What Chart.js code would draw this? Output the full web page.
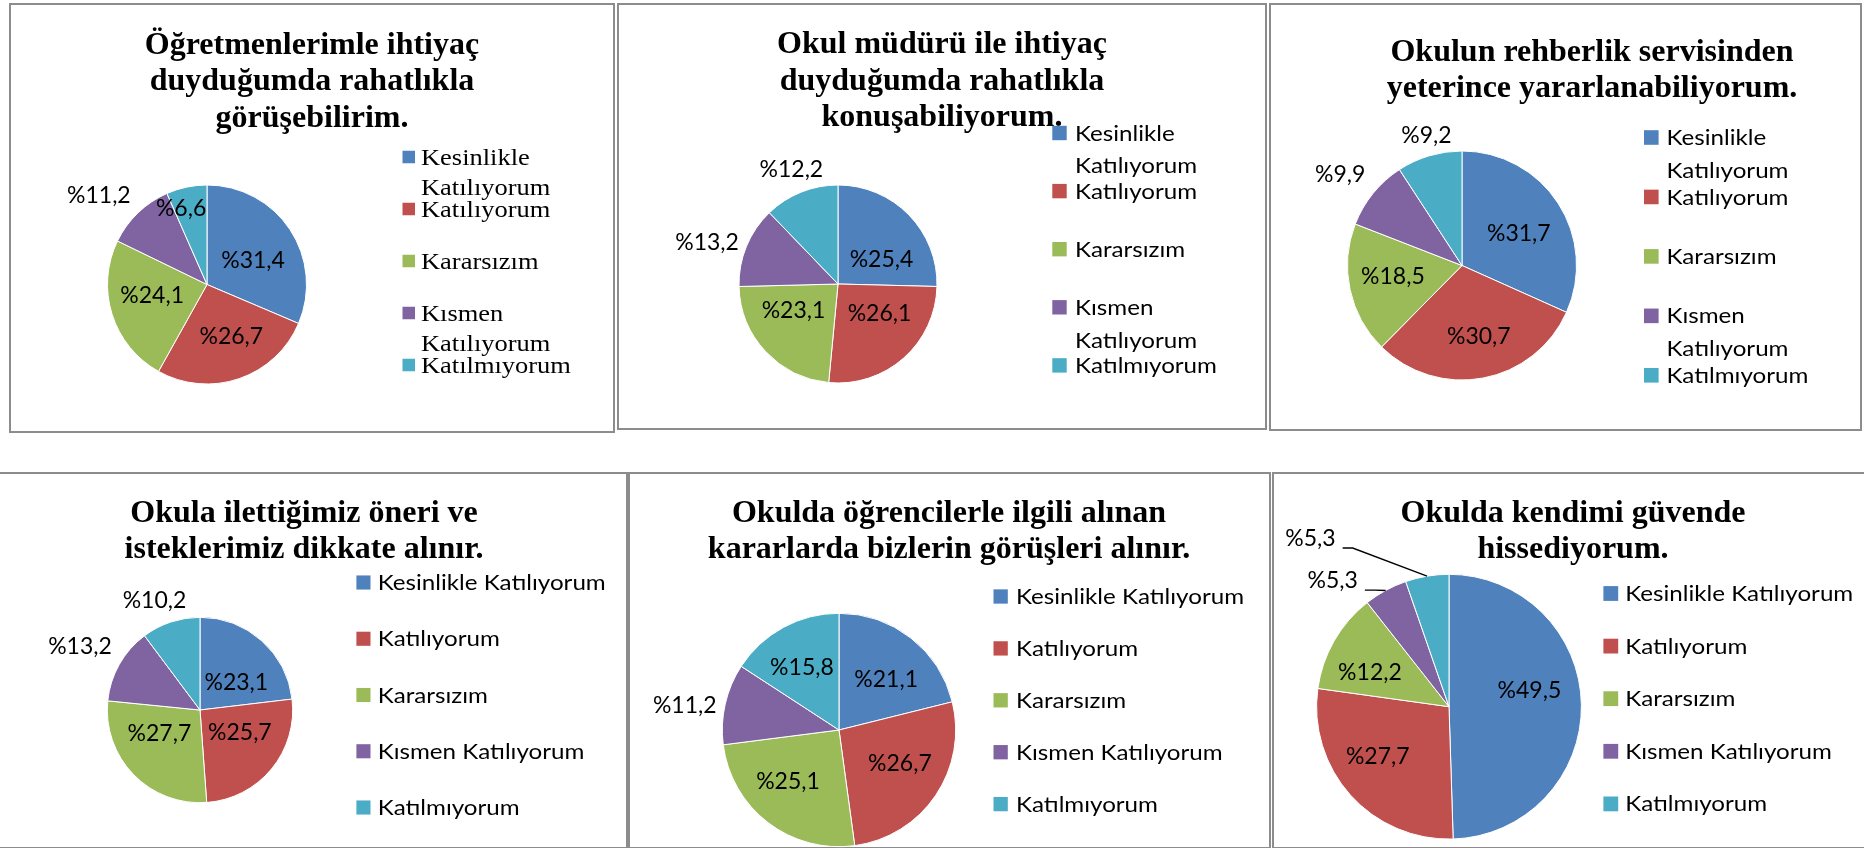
<!DOCTYPE html>
<html>
<head>
<meta charset="utf-8">
<script src="https://cdn.jsdelivr.net/npm/chart.js@4.4.0/dist/chart.umd.min.js"></script>
<style>
html,body{margin:0;padding:0;background:#fff;}
body{width:1864px;height:848px;position:relative;overflow:hidden;}
.panel{position:absolute;box-sizing:border-box;border:2px solid #8c8c8c;}
canvas{position:absolute;}
</style>
</head>
<body>
<script>
// ---------- data ----------
const CATEGORIES = ['Kesinlikle Katılıyorum', 'Katılıyorum', 'Kararsızım', 'Kısmen Katılıyorum', 'Katılmıyorum'];
const COLORS = ['#4F81BD', '#C0504D', '#9BBB59', '#8064A2', '#4BACC6'];

const TITLE_1 = ['Öğretmenlerimle ihtiyaç', 'duyduğumda rahatlıkla', 'görüşebilirim.'];
const TITLE_2 = ['Okul müdürü ile ihtiyaç', 'duyduğumda rahatlıkla', 'konuşabiliyorum.'];
const TITLE_3 = ['Okulun rehberlik servisinden', 'yeterince yararlanabiliyorum.'];
const TITLE_4 = ['Okula ilettiğimiz öneri ve', 'isteklerimiz dikkate alınır.'];
const TITLE_5 = ['Okulda öğrencilerle ilgili alınan', 'kararlarda bizlerin görüşleri alınır.'];
const TITLE_6 = ['Okulda kendimi güvende', 'hissediyorum.'];

const VALUES_1 = [31.4, 26.7, 24.1, 11.2, 6.6];
const VALUES_2 = [25.4, 26.1, 23.1, 13.2, 12.2];
const VALUES_3 = [31.7, 30.7, 18.5, 9.9, 9.2];
const VALUES_4 = [23.1, 25.7, 27.7, 13.2, 10.2];
const VALUES_5 = [21.1, 26.7, 25.1, 11.2, 15.8];
const VALUES_6 = [49.5, 27.7, 12.2, 5.3, 5.3];

// ---------- styles / layout ----------
const TITLE_FONT = 'bold 32px "Liberation Serif"';
const TITLE_STEP = 36.5;
const LABEL_FONT_SIZE = 23;
const LABEL_FONT = LABEL_FONT_SIZE + 'px Lato';
const LABEL_CAP = LABEL_FONT_SIZE * 0.72;
const LEG_SANS = {font: '21px Lato', cap: 21 * 0.72, sx: 1.15};
const LEG_SERIF = {font: '23px "Liberation Serif"', cap: 23 * 0.662, sx: 1.15};

const PANELS = [
  {values: VALUES_1, title: TITLE_1, rect: [9, 3, 615.3, 433], pie: [207, 284.5, 99.5],
   titleX: 312, titleBase: 53.5,
   legend: {sqX: 402.5, s: 12.5, textX: 421, c0: 157, step: 52, wrap: 30, style: LEG_SERIF},
   labels: [[.524, 5.5], [.572, -6.4], [.561, 6.7], [1.41, -6.5], [.81, -6.9]], leaders: []},
  {values: VALUES_2, title: TITLE_2, rect: [617, 3, 1266.5, 430.3], pie: [838, 284, 99],
   titleX: 942, titleBase: 53.3,
   legend: {sqX: 1052.3, s: 14.4, textX: 1075, c0: 133, step: 58.1, wrap: 32.7, style: LEG_SANS},
   labels: [[.51, 13.7], [.51, -13.7], [.52, 12.9], [1.39, -4.4], [1.26, 0]], leaders: []},
  {values: VALUES_3, title: TITLE_3, rect: [1268.5, 3, 1861.7, 431.3], pie: [1462, 265.5, 114.5],
   titleX: 1592, titleBase: 60.8,
   legend: {sqX: 1644, s: 14.6, textX: 1666.4, c0: 137.5, step: 59.45, wrap: 33, style: LEG_SANS},
   labels: [[.575, 2.6], [.633, -2.8], [.61, 3.5], [1.33, -2.2], [1.18, 1.3]], leaders: []},
  {values: VALUES_4, title: TITLE_4, rect: [-5, 471.5, 628, 848.5], pie: [200, 710, 92.7],
   titleX: 304, titleBase: 521.7,
   legend: {sqX: 356.4, s: 14.1, textX: 377.7, c0: 582.5, step: 56.25, wrap: 0, style: LEG_SANS},
   labels: [[.496, 10.5], [.49, -10.9], [.504, 14.6], [1.47, -1.2], [1.29, -4]], leaders: []},
  {values: VALUES_5, title: TITLE_5, rect: [628, 471.5, 1271, 848.5], pie: [839, 730, 116.7],
   titleX: 949, titleBase: 521.7,
   legend: {sqX: 993.5, s: 14.3, textX: 1016, c0: 596.5, step: 51.9, wrap: 0, style: LEG_SANS},
   labels: [[.6, 4.3], [.593, -5.8], [.615, 7.8], [1.34, -3.4], [.63, -1.8]], leaders: []},
  {values: VALUES_6, title: TITLE_6, rect: [1271.7, 471.5, 1870, 848.5], pie: [1449, 706.7, 132.4],
   titleX: 1573, titleBase: 521.7,
   legend: {sqX: 1603.4, s: 14.8, textX: 1625.2, c0: 593.5, step: 52.6, wrap: 0, style: LEG_SANS},
   labels: [[.62, -10.8], [.655, 7.2], [.653, -6], [1.3, -13.9], [1.65, -29.8]], leaders: [3, 4]}
];

function fmt(v) { return '%' + v.toFixed(1).replace('.', ','); }

function makePlugin(p, ox, oy) {
  return {
    id: 'panelText',
    afterDatasetsDraw(chart) {
      const ctx = chart.ctx;
      const meta = chart.getDatasetMeta(0);
      ctx.save();
      // data labels
      ctx.font = LABEL_FONT;
      ctx.textAlign = 'center';
      ctx.textBaseline = 'alphabetic';
      meta.data.forEach((arc, i) => {
        const {x, y, startAngle, endAngle, outerRadius} =
          arc.getProps(['x', 'y', 'startAngle', 'endAngle', 'outerRadius'], true);
        const mid = (startAngle + endAngle) / 2;
        const [f, d] = p.labels[i];
        const a = mid + d * Math.PI / 180;
        const lx = x + Math.cos(a) * outerRadius * f;
        const ly = y + Math.sin(a) * outerRadius * f;
        const txt = fmt(p.values[i]);
        ctx.fillStyle = '#000';
        ctx.fillText(txt, lx, ly + LABEL_CAP / 2);
        if (p.leaders.includes(i)) {
          const w = ctx.measureText(txt).width;
          const yL = ly + LABEL_CAP / 2 + 2;
          const x0 = lx + w / 2 + 7;
          ctx.beginPath();
          ctx.moveTo(x0, yL);
          ctx.lineTo(x0 + 10, yL);
          ctx.lineTo(x + Math.cos(mid) * outerRadius, y + Math.sin(mid) * outerRadius);
          ctx.strokeStyle = '#000';
          ctx.lineWidth = 1.3;
          ctx.stroke();
        }
      });
      // title
      ctx.font = TITLE_FONT;
      ctx.fillStyle = '#000';
      ctx.textAlign = 'center';
      p.title.forEach((line, k) => {
        ctx.fillText(line, p.titleX - ox, p.titleBase + k * TITLE_STEP - oy);
      });
      // legend
      const L = p.legend, st = L.style;
      ctx.font = st.font;
      ctx.textAlign = 'left';
      CATEGORIES.forEach((cat, i) => {
        const c = L.c0 + i * L.step;
        ctx.fillStyle = COLORS[i];
        ctx.fillRect(L.sqX - ox, c - L.s / 2 - oy, L.s, L.s);
        ctx.fillStyle = '#000';
        const lines = L.wrap ? cat.split(' ') : [cat];
        lines.forEach((ln, j) => {
          ctx.save();
          ctx.translate(L.textX - ox, c + st.cap / 2 + j * L.wrap - oy);
          ctx.scale(st.sx, 1);
          ctx.fillText(ln, 0, 0);
          ctx.restore();
        });
      });
      ctx.restore();
    }
  };
}

PANELS.forEach((p) => {
  const [l, t, r, b] = p.rect;
  const border = document.createElement('div');
  border.className = 'panel';
  border.style.left = l + 'px';
  border.style.top = t + 'px';
  border.style.width = (r - l) + 'px';
  border.style.height = (b - t) + 'px';
  document.body.appendChild(border);

  const ox = Math.max(0, Math.floor(l)), oy = Math.floor(t);
  const W = Math.ceil(Math.min(r, 1864)) - ox, H = Math.ceil(Math.min(b, 848)) - oy;
  const cv = document.createElement('canvas');
  cv.width = W; cv.height = H;
  cv.style.left = ox + 'px'; cv.style.top = oy + 'px';
  cv.style.width = W + 'px'; cv.style.height = H + 'px';
  document.body.appendChild(cv);

  const [cx, cy, rad] = p.pie;
  const bw = 1;
  const pad = {
    left: cx - ox - rad - bw / 2,
    top: cy - oy - rad - bw / 2,
    right: W - (cx - ox + rad + bw / 2),
    bottom: H - (cy - oy + rad + bw / 2)
  };

  new Chart(cv, {
    type: 'pie',
    data: {
      labels: CATEGORIES,
      datasets: [{data: p.values, backgroundColor: COLORS, borderColor: '#ffffff', borderWidth: bw}]
    },
    options: {
      responsive: false,
      animation: false,
      devicePixelRatio: 1,
      layout: {padding: pad},
      plugins: {legend: {display: false}, tooltip: {enabled: false}, title: {display: false}}
    },
    plugins: [makePlugin(p, ox, oy)]
  });
});
</script>
</body>
</html>
